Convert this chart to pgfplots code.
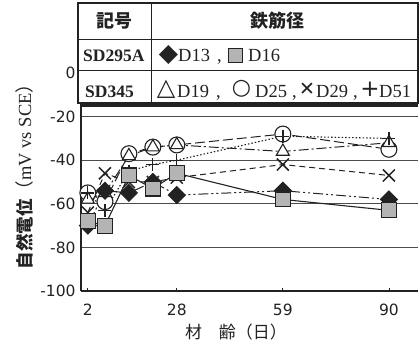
\documentclass[border=0pt]{standalone}
\usepackage{pgfplots}
\pgfplotsset{compat=1.18}
\usepackage{fontspec}
\setmainfont{Liberation Serif}
\newfontfamily\cjk{Noto Sans CJK JP}
\newfontfamily\dv{DejaVu Sans}
\definecolor{ink}{HTML}{222222}
\definecolor{stip}{HTML}{B4B4B4}
\newcommand{\fs}[1]{\fontsize{#1}{#1}\selectfont}
\begin{document}
\begin{tikzpicture}
\useasboundingbox (-81bp,-64bp) rectangle (339bp,291bp);
\begin{axis}[
  at={(0,0)}, anchor=south west,
  scale only axis, width=337bp, height=218bp,
  xmin=0, xmax=98.5, ymin=-100, ymax=0,
  axis lines=left, axis line style={line width=1.6bp, -, ink},
  xtick={2,28,59,90}, ytick={-100,-80,...,0},
  ymajorgrids, grid style={line width=0.8bp, black!70},
  tick align=inside, major tick length=3bp,
  ytick style={draw=none}, xtick style={line width=0.8bp, ink},
  tick label style={font=\dv\fs{15.5bp}, text=ink},
  yticklabel style={xshift=-2bp},
  xticklabel style={yshift=-9bp},
  /pgf/number format/assume math mode=true,
  clip=false,
]
% D25 circle, long dash
\addplot[ink, line width=1bp, dash pattern=on 10bp off 4bp, mark=*, mark size=8pt,
  mark options={solid, fill=white, draw=ink, line width=1.1bp}]
  coordinates {(2,-55) (7,-59) (14,-37) (21,-34) (28,-33) (59,-28) (90,-35)};
% D19 triangle, dash dot
\addplot[ink, line width=1bp, dash pattern=on 10bp off 3bp on 2bp off 3bp, mark=triangle*, mark size=7.5pt,
  mark options={solid, fill=white, draw=ink, line width=1.1bp}]
  coordinates {(2,-58) (7,-55) (14,-38) (21,-34) (28,-33) (59,-36) (90,-32)};
% D51 plus, dotted
\addplot[ink, line width=1.1bp, dash pattern=on 1.5bp off 2bp, mark=+, mark size=6.5pt,
  mark options={solid, draw=ink, line width=1.3bp}]
  coordinates {(2,-55) (7,-63) (14,-45) (21,-42) (28,-40) (59,-29) (90,-30)};
% D29 x, dashed
\addplot[ink, line width=1bp, dash pattern=on 6bp off 4bp, mark=x, mark size=8.5pt,
  mark options={solid, draw=ink, line width=1.5bp}]
  coordinates {(2,-64) (7,-46) (14,-50) (21,-50) (28,-48) (59,-42) (90,-47)};
% D13 diamond, dash dot dot
\addplot[ink, line width=1bp, dash pattern=on 10bp off 3bp on 2bp off 3bp on 2bp off 3bp, mark=square*, mark size=6pt,
  mark options={solid, rotate=45, fill=ink, draw=ink}]
  coordinates {(2,-70) (7,-54) (14,-55) (21,-50) (28,-56) (59,-54) (90,-58)};
% D16 square, solid
\addplot[ink, line width=1.1bp, mark=square*, mark size=7.5pt,
  mark options={solid, fill=stip, draw=ink, line width=1.1bp}]
  coordinates {(2,-68) (7,-70) (14,-47) (21,-53) (28,-46) (59,-58) (90,-63)};
\end{axis}
% table
\fill[white] (-3bp,184bp) rectangle (337bp,288bp);
\draw[ink, line width=1.2bp] (-3bp,188bp) rectangle (337bp,288bp);
\draw[ink, line width=1bp] (-3bp,251bp) -- (337bp,251bp);
\draw[ink, line width=0.9bp] (-3bp,221bp) -- (337bp,221bp);
\draw[ink, line width=1bp] (70bp,188bp) -- (70bp,288bp);
\draw[ink, line width=3bp] (-1bp,185.5bp) -- (337bp,185.5bp);
\node[text=ink, font=\cjk\bfseries\fs{18bp}] at (33.5bp,270bp) {記号};
\node[text=ink, font=\cjk\bfseries\fs{18bp}] at (196bp,270bp) {鉄筋径};
\node[text=ink, anchor=base west, inner sep=0pt, font=\bfseries\fs{17.5bp}] at (2bp,229bp) {SD295A};
\node[text=ink, anchor=base west, inner sep=0pt, font=\bfseries\fs{17.5bp}] at (4bp,193bp) {SD345};
% row 2
\node[text=ink, inner sep=0pt, font=\dv\fs{25bp}] at (87.5bp,235.5bp) {◆};
\node[text=ink, anchor=base west, inner sep=0pt, font=\fs{18.5bp}] at (97bp,229bp) {D13};
\node[text=ink, anchor=base west, inner sep=0pt, font=\fs{18.5bp}] at (136bp,229bp) {,};
\node[inner sep=0pt] at (154bp,235.5bp) {\setlength{\fboxsep}{0pt}\setlength{\fboxrule}{1bp}\fcolorbox{ink}{stip}{\rule{0pt}{13bp}\rule{13bp}{0pt}}};
\node[text=ink, anchor=base west, inner sep=0pt, font=\fs{18.5bp}] at (167bp,229bp) {D16};
% row 3
\node[text=ink, inner sep=0pt, font=\dv\fs{24bp}] at (85bp,202bp) {△};
\node[text=ink, anchor=base west, inner sep=0pt, font=\fs{18.5bp}] at (96bp,193bp) {D19};
\node[text=ink, anchor=base west, inner sep=0pt, font=\fs{18.5bp}] at (135bp,193bp) {,};
\node[text=ink, inner sep=0pt, font=\dv\fs{22bp}] at (160.5bp,202bp) {○};
\node[text=ink, anchor=base west, inner sep=0pt, font=\fs{18.5bp}] at (174bp,193bp) {D25};
\node[text=ink, anchor=base west, inner sep=0pt, font=\fs{18.5bp}] at (211bp,193bp) {,};
\node[text=ink, inner sep=0pt, font=\dv\fs{19bp}] at (226bp,202bp) {✕};
\node[text=ink, anchor=base west, inner sep=0pt, font=\fs{18.5bp}] at (235bp,193bp) {D29};
\node[text=ink, anchor=base west, inner sep=0pt, font=\fs{18.5bp}] at (272bp,193bp) {,};
\node[text=ink, inner sep=0pt, font=\dv\fs{23bp}] at (289bp,202bp) {+};
\node[text=ink, anchor=base west, inner sep=0pt, font=\fs{18.5bp}] at (298bp,193bp) {D51};
% axis labels
\node[text=ink, rotate=90] at (-57bp,119bp) {{\cjk\bfseries\fs{17.5bp}自然電位}{\cjk\fs{18.5bp}（}{\fs{18.5bp}mV vs SCE}{\cjk\fs{18.5bp}）}};
\node[text=ink, font=\cjk\fs{17bp}] at (155bp,-41bp) {材\hspace{1em}齢（日）};
\end{tikzpicture}
\end{document}
